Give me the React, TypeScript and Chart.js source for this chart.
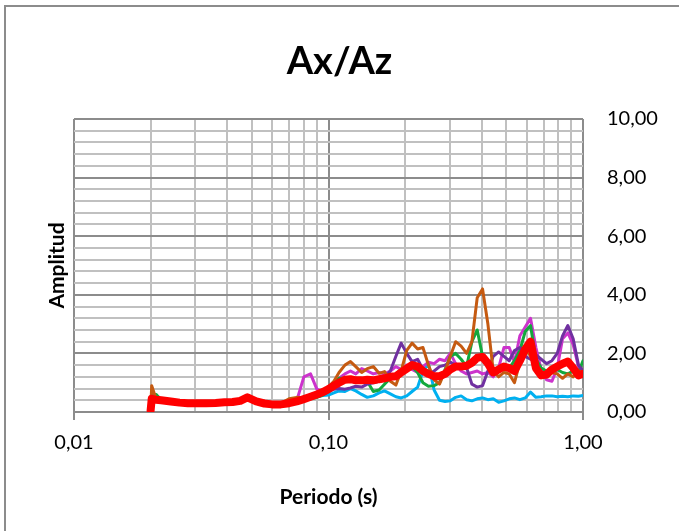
import React, { useEffect, useRef } from 'react';
import { Chart, registerables } from 'chart.js';

Chart.register(...registerables);

// Periods (s)
const PERIODS = [0.0200, 0.0202, 0.021, 0.022, 0.024, 0.026, 0.028, 0.030, 0.033, 0.036, 0.039, 0.042, 0.045, 0.048, 0.052, 0.056, 0.060, 0.065, 0.070, 0.075, 0.080, 0.085, 0.090, 0.095, 0.100, 0.105, 0.110, 0.116, 0.122, 0.128, 0.135, 0.142, 0.150, 0.158, 0.166, 0.175, 0.184, 0.193, 0.203, 0.213, 0.224, 0.235, 0.247, 0.260, 0.273, 0.287, 0.301, 0.316, 0.332, 0.349, 0.366, 0.384, 0.403, 0.423, 0.444, 0.466, 0.489, 0.513, 0.538, 0.565, 0.593, 0.622, 0.653, 0.685, 0.719, 0.755, 0.792, 0.831, 0.872, 0.915, 0.960, 1.000];

const RED = [0.05, 0.45, 0.42, 0.40, 0.36, 0.32, 0.30, 0.30, 0.30, 0.31,
  0.33, 0.34, 0.38, 0.50, 0.36, 0.29, 0.26, 0.26, 0.30, 0.36,
  0.44, 0.52, 0.60, 0.68, 0.78, 0.90, 1.00, 1.10, 1.12, 1.08,
  1.08, 1.10, 1.08, 1.12, 1.15, 1.20, 1.22, 1.35, 1.48, 1.60,
  1.55, 1.40, 1.30, 1.22, 1.22, 1.30, 1.45, 1.55, 1.55, 1.58,
  1.68, 1.85, 1.88, 1.66, 1.35, 1.45, 1.55, 1.50, 1.40, 1.75,
  2.15, 2.40, 1.50, 1.25, 1.28, 1.45, 1.55, 1.65, 1.72, 1.50,
  1.25, 1.30];

const BROWN = [0.05, 0.90, 0.45, 0.40, 0.36, 0.32, 0.30, 0.30, 0.30, 0.31,
  0.33, 0.34, 0.38, 0.48, 0.36, 0.29, 0.27, 0.30, 0.45, 0.50,
  0.48, 0.55, 0.62, 0.70, 0.85, 1.05, 1.35, 1.60, 1.72, 1.55,
  1.35, 1.48, 1.55, 1.32, 1.38, 1.05, 0.92, 1.40, 2.10, 2.35,
  2.15, 2.20, 1.60, 1.10, 0.95, 1.40, 1.90, 2.40, 2.25, 2.00,
  2.40, 3.90, 4.20, 3.00, 1.40, 1.20, 1.35, 1.30, 1.00, 1.70,
  2.20, 1.90, 1.50, 1.30, 1.20, 1.35, 1.30, 1.15, 1.30, 1.20,
  1.40, 1.35];

const PURPLE = [0.05, 0.75, 0.45, 0.40, 0.36, 0.32, 0.30, 0.30, 0.30, 0.31,
  0.33, 0.34, 0.38, 0.48, 0.36, 0.29, 0.26, 0.26, 0.30, 0.36,
  0.42, 0.48, 0.55, 0.62, 0.70, 0.78, 0.80, 0.78, 0.82, 0.88,
  0.85, 0.95, 1.00, 1.05, 1.15, 1.40, 1.90, 2.35, 2.00, 1.72,
  1.80, 1.45, 1.30, 1.40, 1.55, 1.60, 1.70, 1.60, 1.55, 1.50,
  0.95, 0.85, 0.90, 1.40, 1.90, 2.05, 1.90, 1.75, 2.10, 2.20,
  1.90, 1.80, 1.95, 1.80, 1.65, 1.75, 2.00, 2.60, 2.95, 2.50,
  1.60, 1.40];

const GREEN = [0.05, 0.55, 0.60, 0.42, 0.36, 0.32, 0.30, 0.30, 0.30, 0.31,
  0.33, 0.34, 0.38, 0.48, 0.36, 0.29, 0.26, 0.26, 0.28, 0.33,
  0.40, 0.45, 0.50, 0.58, 0.72, 0.95, 1.15, 1.15, 1.12, 1.10,
  1.10, 1.05, 0.70, 0.75, 0.95, 1.15, 1.30, 1.45, 1.50, 1.55,
  1.35, 1.00, 0.88, 0.90, 1.00, 1.45, 1.90, 2.00, 1.80, 1.55,
  2.40, 2.80, 1.90, 1.55, 1.40, 1.45, 1.45, 1.50, 1.75, 2.10,
  2.75, 2.95, 1.80, 1.50, 1.40, 1.40, 1.45, 1.35, 1.30, 1.40,
  1.35, 1.75];

const MAGENTA = [0.05, 0.45, 0.55, 0.40, 0.36, 0.32, 0.30, 0.30, 0.30, 0.31,
  0.33, 0.34, 0.38, 0.48, 0.36, 0.29, 0.25, 0.24, 0.27, 0.38,
  1.20, 1.30, 0.78, 0.70, 0.75, 0.95, 1.15, 1.30, 1.40, 1.30,
  1.48, 1.40, 1.30, 1.35, 1.30, 1.40, 1.55, 1.45, 1.60, 1.45,
  1.35, 1.55, 1.70, 1.65, 1.80, 1.75, 2.00, 1.65, 1.40, 1.30,
  1.35, 1.40, 1.30, 1.35, 1.20, 1.50, 2.20, 2.20, 1.70, 2.60,
  2.90, 3.20, 2.20, 1.45, 1.10, 1.05, 1.50, 2.50, 2.70, 2.30,
  1.55, 1.25];

const CYAN = [0.05, 0.40, 0.42, 0.40, 0.36, 0.32, 0.30, 0.30, 0.30, 0.31,
  0.33, 0.34, 0.38, 0.48, 0.36, 0.29, 0.26, 0.26, 0.30, 0.36,
  0.42, 0.48, 0.52, 0.56, 0.58, 0.65, 0.72, 0.70, 0.80, 0.72,
  0.60, 0.50, 0.55, 0.65, 0.72, 0.62, 0.52, 0.48, 0.55, 0.70,
  0.85, 1.40, 1.65, 0.75, 0.40, 0.36, 0.38, 0.50, 0.55, 0.42,
  0.38, 0.45, 0.48, 0.42, 0.45, 0.33, 0.38, 0.45, 0.48, 0.42,
  0.48, 0.68, 0.50, 0.52, 0.55, 0.55, 0.52, 0.54, 0.52, 0.55,
  0.54, 0.56];

const X_GRID = [0.01, 0.02, 0.03, 0.04, 0.05, 0.06, 0.07, 0.08, 0.09, 0.1, 0.2, 0.3, 0.4, 0.5, 0.6, 0.7, 0.8, 0.9, 1];
const X_LABELED = [0.01, 0.1, 1];
const Y_GRID = [0, 0.4, 0.8, 1.2, 1.6, 2, 2.4, 2.8, 3.2, 3.6, 4, 4.4, 4.8, 5.2, 5.6, 6, 6.4, 6.8, 7.2, 7.6, 8, 8.4, 8.8, 9.2, 9.6, 10];
const Y_LABELED = [0, 2, 4, 6, 8, 10];

const FONT = 'Lato, "Open Sans", sans-serif';
const MAJOR = '#8c8c8c';
const MINOR = '#c0c0c0';

const inList = (v: number, list: number[]) => list.some((t) => Math.abs(t - v) < 1e-9);
const fmt = (v: number) => v.toFixed(2).replace('.', ',');

export default function App() {
  const ref = useRef<HTMLCanvasElement>(null);

  useEffect(() => {
    document.body.style.margin = '0';
    const series = [
      { label: 'Promedio', data: RED, color: '#FF0000', width: 8 },
      { label: 'Registro 1', data: BROWN, color: '#C55A11', width: 3 },
      { label: 'Registro 2', data: PURPLE, color: '#7030A0', width: 3 },
      { label: 'Registro 3', data: GREEN, color: '#13A83C', width: 3 },
      { label: 'Registro 4', data: MAGENTA, color: '#CC33CC', width: 3 },
      { label: 'Registro 5', data: CYAN, color: '#00B0F0', width: 3 },
    ];
    const chart = new Chart(ref.current as HTMLCanvasElement, {
      type: 'line',
      data: {
        datasets: series.map((s) => ({
          label: s.label,
          data: PERIODS.map((p, i) => ({ x: p, y: s.data[i] })),
          borderColor: s.color,
          backgroundColor: s.color,
          borderWidth: s.width,
          pointRadius: 0,
          tension: 0,
          fill: false,
          borderJoinStyle: 'round',
          borderCapStyle: 'round',
          xAxisID: 'x',
          yAxisID: 'y',
        })),
      },
      options: {
        responsive: false,
        animation: false,
        layout: { padding: 0 },
        plugins: {
          legend: { display: false },
          tooltip: { enabled: false },
          title: {
            display: true,
            text: 'Ax/Az',
            color: '#000',
            font: { family: FONT, size: 38, weight: 'bold' },
            padding: { top: 39.2, bottom: 34.2 },
          },
        },
        scales: {
          x: {
            type: 'logarithmic',
            position: 'bottom',
            min: 0.01,
            max: 1,
            afterBuildTicks: (s: any) => {
              s.ticks = X_GRID.map((v) => ({ value: v }));
            },
            afterFit: (s: any) => {
              s.height = 119;
            },
            ticks: {
              autoSkip: false,
              maxRotation: 0,
              minRotation: 0,
              padding: 11,
              color: '#000',
              font: { family: FONT, size: 20 },
              callback: (v: any) => (inList(Number(v), X_LABELED) ? fmt(Number(v)) : ''),
            },
            grid: {
              color: (ctx: any) => (ctx.tick && inList(ctx.tick.value, X_LABELED) ? MAJOR : MINOR),
              tickColor: (ctx: any) => (ctx.tick && inList(ctx.tick.value, X_LABELED) ? MAJOR : 'rgba(0,0,0,0)'),
              lineWidth: 2,
              drawTicks: true,
              tickLength: 8,
            },
            border: { display: true, color: MAJOR, width: 2 },
            title: {
              display: true,
              text: 'Periodo (s)',
              color: '#000',
              font: { family: FONT, size: 21, weight: 'bold' },
              padding: { top: 0, bottom: 21.4 },
            },
          },
          y: {
            type: 'linear',
            position: 'right',
            min: 0,
            max: 10,
            afterBuildTicks: (s: any) => {
              s.ticks = Y_GRID.map((v) => ({ value: v }));
            },
            afterFit: (s: any) => {
              s.width = 96;
            },
            ticks: {
              autoSkip: false,
              padding: 24,
              color: '#000',
              font: { family: FONT, size: 20 },
              callback: (v: any) => (inList(Number(v), Y_LABELED) ? fmt(Number(v)) : ''),
            },
            grid: {
              color: (ctx: any) => (ctx.tick && inList(ctx.tick.value, Y_LABELED) ? MAJOR : MINOR),
              lineWidth: 2,
              drawTicks: false,
            },
            border: { display: false },
          },
          yl: {
            type: 'linear',
            position: 'left',
            min: 0,
            max: 10,
            ticks: { display: false },
            grid: { display: false, drawTicks: false },
            border: { display: false },
            afterFit: (s: any) => {
              s.width = 74;
            },
            title: {
              display: true,
              text: 'Amplitud',
              color: '#000',
              font: { family: FONT, size: 21, weight: 'bold' },
              padding: { top: 44.4, bottom: 0 },
            },
          },
        },
      } as any,
    });
    return () => chart.destroy();
  }, []);

  return (
    <div style={{ position: 'relative', width: 679, height: 531, overflow: 'hidden', background: '#fff' }}>
      <div
        style={{
          position: 'absolute',
          left: 4,
          top: 5,
          width: 800,
          height: 700,
          borderLeft: '2px solid #8c8c8c',
          borderTop: '2px solid #8c8c8c',
        }}
      />
      <canvas ref={ref} width={679} height={531} style={{ position: 'absolute', left: 0, top: 0 }} />
    </div>
  );
}
